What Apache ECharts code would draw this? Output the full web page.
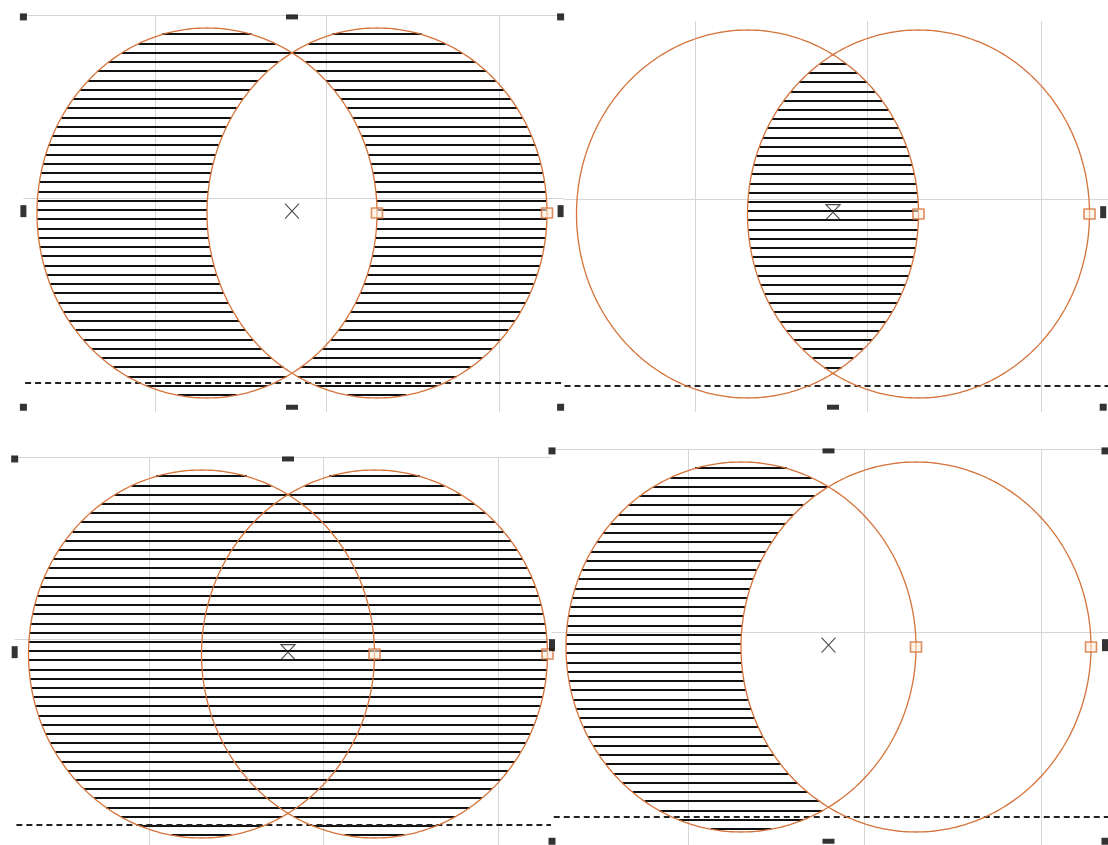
<!DOCTYPE html>
<html><head><meta charset="utf-8">
<script src="https://cdn.jsdelivr.net/npm/echarts@6/dist/echarts.min.js"></script>
<style>html,body{margin:0;padding:0;background:#fff}#chart{width:1108px;height:845px}</style>
</head><body><div id="chart"></div>
<script>
// ---------------- data ----------------
const panelOps = ['xor', 'intersect', 'union', 'difference'];
const circleCentersX = [-0.5, 0.5];
const circleCentersY = [0, 0];
const circleRadius = [1, 1];
const guideX = [-0.805, 0.2, 1.215];
const guideY = [1.07, 0.08];
const guideStartX = -1.58;
const handleX = [-1.58, 0, 1.58];
const handleY = [1.06, 0.01, -1.05];
const dashY = [-0.919, -0.935, -0.929, -0.919];
const dashStartX = -1.57;
const centerMark = [0, 0.01];
const centerMarkKind = ['x', 'hourglass', 'hourglass', 'x'];

// ---------------- style / layout ----------------
const HATCH_STEP = 0.05, HATCH_OFFSET = 0.015;
const ORANGE = '#d5733a';
const GUIDE = '#d6d6d6';
const panels = [
  {L: 0,   T: 0,   R: 564,  B: 412, cx: 292,   cy: 213, sx: 170, sy: 185},
  {L: 564, T: 21,  R: 1108, B: 412, cx: 833,   cy: 214, sx: 171, sy: 184},
  {L: 0,   T: 414, R: 551,  B: 845, cx: 288,   cy: 654, sx: 173, sy: 184},
  {L: 550, T: 414, R: 1108, B: 845, cx: 828.5, cy: 647, sx: 175, sy: 185}
];

const circles = circleCentersX.map((x, i) => [x, circleCentersY[i], circleRadius[i]]);

function spanAt(c, y) {
  const dy = y - c[1];
  if (Math.abs(dy) >= c[2]) return null;
  const w = Math.sqrt(c[2] * c[2] - dy * dy);
  return [c[0] - w, c[0] + w];
}
function merge(list) {
  const a = list.filter(Boolean).filter(s => s[1] > s[0]).sort((p, q) => p[0] - q[0]);
  const out = [];
  a.forEach(s => {
    if (out.length && s[0] <= out[out.length - 1][1]) out[out.length - 1][1] = Math.max(out[out.length - 1][1], s[1]);
    else out.push([s[0], s[1]]);
  });
  return out;
}
function inter(a, b) {
  if (!a || !b) return [];
  const lo = Math.max(a[0], b[0]), hi = Math.min(a[1], b[1]);
  return hi > lo ? [[lo, hi]] : [];
}
function minus(a, b) {
  if (!a) return [];
  if (!b) return [a];
  const out = [];
  if (b[0] > a[0]) out.push([a[0], Math.min(a[1], b[0])]);
  if (b[1] < a[1]) out.push([Math.max(a[0], b[1]), a[1]]);
  return out.filter(s => s[1] > s[0]);
}
function regionAt(op, y) {
  const A = spanAt(circles[0], y), B = spanAt(circles[1], y);
  if (op === 'xor') return merge(minus(A, B).concat(minus(B, A)));
  if (op === 'intersect') return inter(A, B);
  if (op === 'union') return merge([A, B]);
  return minus(A, B);
}

const grids = [], xAxes = [], yAxes = [], series = [];
panels.forEach((p, i) => {
  grids.push({left: p.L, top: p.T, width: p.R - p.L, height: p.B - p.T, containLabel: false, outerBoundsMode: 'none'});
  xAxes.push({type: 'value', gridIndex: i, min: (p.L - p.cx) / p.sx, max: (p.R - p.cx) / p.sx, show: false});
  yAxes.push({type: 'value', gridIndex: i, min: (p.cy - p.B) / p.sy, max: (p.cy - p.T) / p.sy, show: false});
  const ax = {xAxisIndex: i, yAxisIndex: i};
  const xMax = (p.R - p.cx) / p.sx + 0.1, yMin = (p.cy - p.B) / p.sy - 0.1;

  // light guide lines
  series.push(Object.assign({
    type: 'custom', clip: true, silent: true, z: 1, data: [[0, 0]],
    renderItem: (params, api) => {
      const ch = [];
      guideX.forEach(gx => {
        const a = api.coord([gx, guideY[0]]), b = api.coord([gx, yMin]);
        ch.push({type: 'line', shape: {x1: Math.round(a[0]) + 0.5, y1: a[1], x2: Math.round(b[0]) + 0.5, y2: b[1]}, style: {stroke: GUIDE, lineWidth: 1}});
      });
      guideY.forEach(gy => {
        const a = api.coord([guideStartX, gy]), b = api.coord([xMax, gy]);
        ch.push({type: 'line', shape: {x1: a[0], y1: Math.round(a[1]) + 0.5, x2: b[0], y2: Math.round(b[1]) + 0.5}, style: {stroke: GUIDE, lineWidth: 1}});
      });
      return {type: 'group', children: ch};
    }
  }, ax));

  // hatching of the boolean region
  series.push(Object.assign({
    type: 'custom', clip: true, silent: true, z: 2, data: [[0, 0]],
    renderItem: (params, api) => {
      const ymin = Math.min(...circles.map(c => c[1] - c[2])), ymax = Math.max(...circles.map(c => c[1] + c[2]));
      const k0 = Math.ceil((ymin - HATCH_OFFSET) / HATCH_STEP), k1 = Math.floor((ymax - HATCH_OFFSET) / HATCH_STEP);
      const ch = [];
      for (let k = k0; k <= k1; k++) {
        const y = HATCH_OFFSET + k * HATCH_STEP;
        regionAt(panelOps[i], y).forEach(s => {
          const a = api.coord([s[0], y]), b = api.coord([s[1], y]);
          const yy = Math.round(a[1]);
          ch.push({type: 'line', shape: {x1: a[0], y1: yy, x2: b[0], y2: yy}, style: {stroke: '#111', lineWidth: 2}});
        });
      }
      return {type: 'group', children: ch};
    }
  }, ax));

  // dashed baseline
  series.push(Object.assign({
    type: 'custom', clip: true, silent: true, z: 3, data: [[dashStartX, dashY[i]]],
    renderItem: (params, api) => {
      const a = api.coord([api.value(0), api.value(1)]), b = api.coord([xMax, api.value(1)]);
      const yy = Math.round(a[1]);
      return {type: 'line', shape: {x1: a[0], y1: yy, x2: b[0], y2: yy}, style: {stroke: '#222', lineWidth: 2, lineDash: [6, 4]}};
    }
  }, ax));

  // circle outlines
  series.push(Object.assign({
    type: 'custom', clip: true, silent: true, z: 4, data: circles,
    renderItem: (params, api) => {
      const cx = api.value(0), cy = api.value(1), r = api.value(2);
      const pts = [];
      for (let t = 0; t < 360; t++) {
        const a = t * Math.PI / 180;
        pts.push(api.coord([cx + r * Math.cos(a), cy + r * Math.sin(a)]));
      }
      return {type: 'polygon', shape: {points: pts}, style: {stroke: ORANGE, fill: 'none', lineWidth: 1.3}};
    }
  }, ax));

  // node squares at right-most point of each circle
  series.push(Object.assign({
    type: 'scatter', clip: false, silent: true, z: 5,
    data: circles.map(c => [c[0] + c[2], c[1]]),
    symbol: 'rect', symbolSize: [11, 10],
    itemStyle: {color: 'rgba(255,238,220,0.7)', borderColor: ORANGE, borderWidth: 1.5}
  }, ax));

  // selection handles
  const hd = [];
  handleX.forEach((hx, a) => handleY.forEach((hy, b) => { if (!(a === 1 && b === 1)) hd.push([hx, hy, a, b]); }));
  series.push(Object.assign({
    type: 'scatter', clip: true, silent: true, z: 6, data: hd,
    symbol: 'rect',
    symbolSize: v => (v[2] === 1 ? [12, 5] : (v[3] === 1 ? [6, 12] : [7, 7])),
    itemStyle: {color: '#000'}
  }, ax));

  // center marker
  series.push(Object.assign({
    type: 'scatter', clip: false, silent: true, z: 6, data: [centerMark],
    symbol: centerMarkKind[i] === 'x' ? 'path://M0,0L14,14M14,0L0,14' : 'path://M0,0L14,0L0,14L14,14Z',
    symbolSize: [14, 15],
    itemStyle: {color: 'rgba(0,0,0,0)', borderColor: '#222', borderWidth: 1.2}
  }, ax));
});

const chart = echarts.init(document.getElementById('chart'), null, {renderer: 'canvas'});
chart.setOption({animation: false, backgroundColor: '#fff', grid: grids, xAxis: xAxes, yAxis: yAxes, series: series});
</script>
</body></html>
